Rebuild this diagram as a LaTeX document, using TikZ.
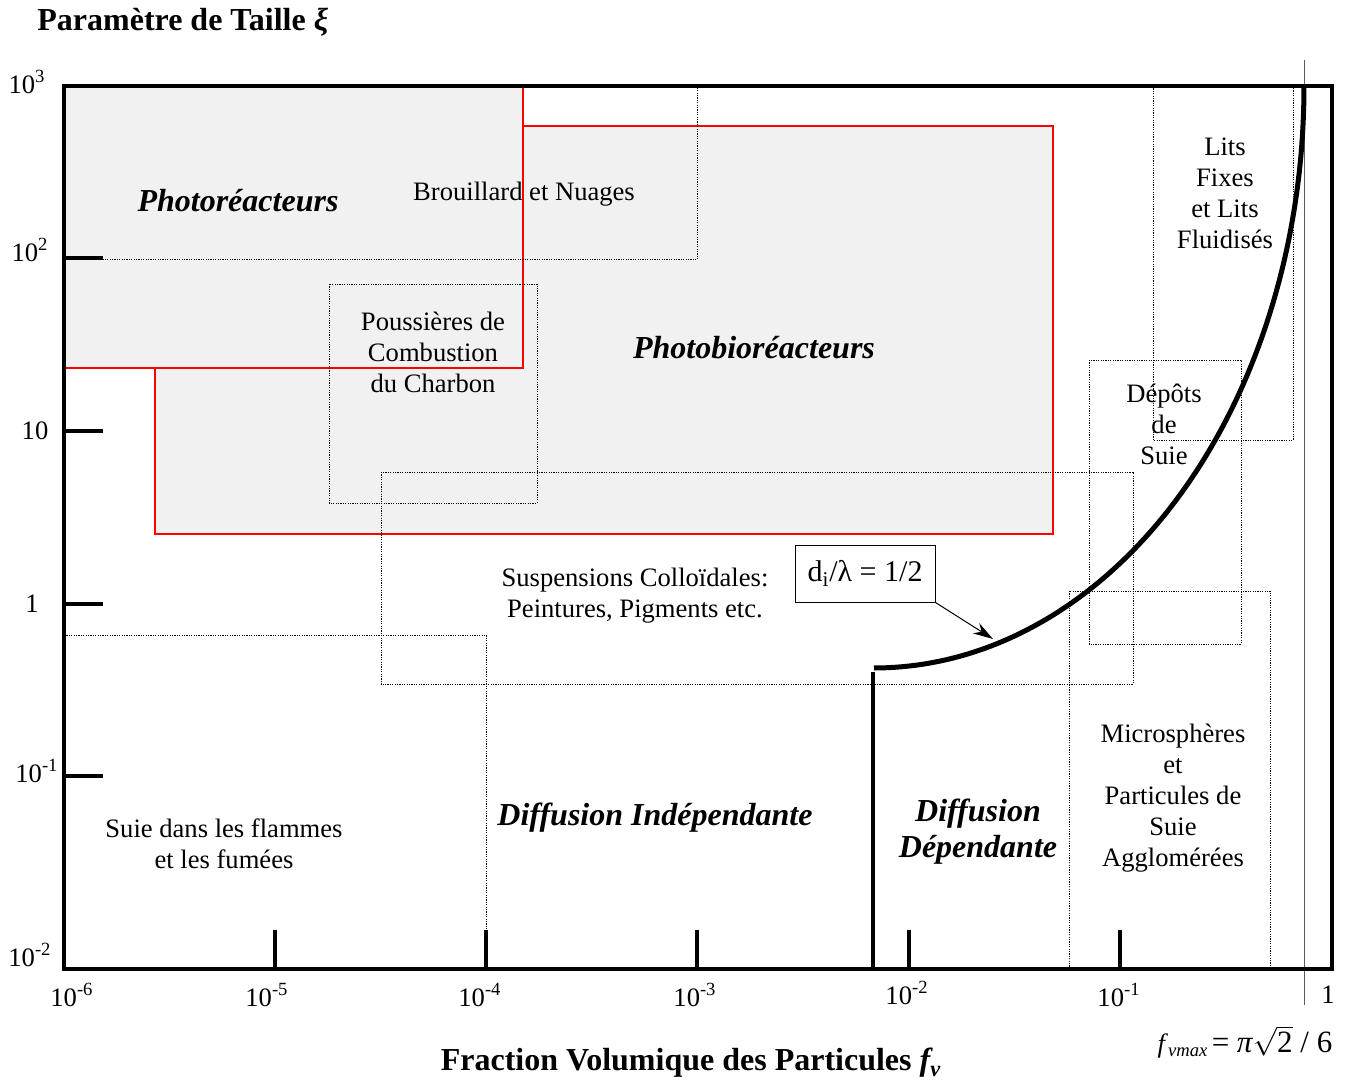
\documentclass[tikz,border=0pt]{standalone}
\usepackage{fontspec}
\setmainfont{Liberation Serif}
\usetikzlibrary{arrows.meta}
\definecolor{fillgray}{RGB}{241,241,241}
\definecolor{vlinegray}{RGB}{90,90,90}
\begin{document}
\begin{tikzpicture}[x=0.5pt,y=-0.5pt,
  dotbox/.style={draw=black, line width=0.5pt, dash pattern=on 0.6pt off 0.6pt},
  redbox/.style={draw=red, line width=1pt, fill=fillgray},
  framebox/.style={draw=black, line width=2pt},
  tickline/.style={draw=black, line width=2pt},
  curveline/.style={draw=black, line width=2.5pt},
  txt/.style={font=\fontsize{13.3}{15.5}\selectfont, align=center, inner sep=0pt},
  bigital/.style={font=\fontsize{16}{18}\selectfont\bfseries\itshape, align=center, inner sep=0pt},
  boldlab/.style={font=\fontsize{16}{18}\selectfont\bfseries, inner sep=0pt},
  ticklab/.style={font=\fontsize{13.3}{15}\selectfont, inner sep=0pt}]
\useasboundingbox (0,0) rectangle (1351,1081);

% filled regions
\path[redbox] (155,126) rectangle (1053,534);
\path[redbox] (64,86) rectangle (523,368);

% dotted domain boxes
\draw[dotbox] (64,260) -- (697,260) -- (697,86);
\draw[dotbox] (329,284) rectangle (537,503);
\draw[dotbox] (381,472) rectangle (1133,684);
\draw[dotbox] (64,635) -- (486,635) -- (486,969);
\draw[dotbox] (1153,86) -- (1153,440) -- (1293,440) -- (1293,86);
\draw[dotbox] (1089,360) rectangle (1241,644);
\draw[dotbox] (1069,969) -- (1069,591) -- (1270,591) -- (1270,969);

% fv max line
\draw[vlinegray, line width=0.5pt] (1304,60) -- (1304,1005);

% frame
\draw[framebox] (64,86) rectangle (1332,969);

% ticks
\foreach \yy in {258,431,604,776} \draw[tickline] (64,\yy) -- (103,\yy);
\foreach \xx in {275,486,697,909,1120} \draw[tickline] (\xx,969) -- (\xx,930);

% dependent scattering boundary
\draw[tickline] (873,969) -- (873,672);
\draw[curveline, line cap=butt] plot[domain=0:90, samples=80, smooth]
  ({874+430*sin(\x)}, {86+582*cos(\x)});

% label box and arrow
\node[draw=black, line width=0.5pt, minimum width=70pt, minimum height=28.5pt,
      inner sep=0pt, font=\fontsize{15}{17}\selectfont] (ratio) at (865,573.5)
      {d\textsubscript{i}/λ = 1/2};
\coordinate (curvept) at (993,639);
\draw[line width=0.5pt, -{Stealth[length=10pt,width=6pt]}] (ratio.south east) -- (curvept);

% axis titles
\node[boldlab, anchor=west] (ytitle) at (37,22) {Paramètre de Taille \textit{ξ}};
\node[boldlab] (xtitle) at (691,1063) {Fraction Volumique des Particules \textit{f\textsubscript{v}}};
\node[inner sep=0pt] (fvmax) at (1245,1042)
  {{\fontsize{13.3}{15}\selectfont\textit{f}\textsubscript{\textit{vmax}}}\,{\fontsize{15.5}{17}\selectfont = \textit{π}$\sqrt{\mbox{2}}$ / 6}};

% y tick labels
\node[ticklab] (y3) at (27,82) {10\textsuperscript{3}};
\node[ticklab] (y2) at (30,250) {10\textsuperscript{2}};
\node[ticklab] (y1) at (35,431) {10};
\node[ticklab] (y0) at (32,604) {1};
\node[ticklab] (ym1) at (37,771) {10\textsuperscript{-1}};
\node[ticklab] (ym2) at (30,955) {10\textsuperscript{-2}};

% x tick labels
\node[ticklab] (xm6) at (72,995) {10\textsuperscript{-6}};
\node[ticklab] (xm5) at (267,995) {10\textsuperscript{-5}};
\node[ticklab] (xm4) at (480,995) {10\textsuperscript{-4}};
\node[ticklab] (xm3) at (695,995) {10\textsuperscript{-3}};
\node[ticklab] (xm2) at (907,993) {10\textsuperscript{-2}};
\node[ticklab] (xm1) at (1119,995) {10\textsuperscript{-1}};
\node[ticklab] (x0) at (1328,995) {1};

% region labels
\node[bigital] (photo) at (238,201) {Photoréacteurs};
\node[bigital] (photobio) at (754,348) {Photobioréacteurs};
\node[bigital] (indep) at (655,818) {Diffusion Indépendante};
\node[bigital] (dep) at (978,832) {Diffusion\\[0pt]Dépendante};

\node[txt] (brouillard) at (524,194) {Brouillard et Nuages};
\node[txt] (poussieres) at (433,352) {Poussières de\\Combustion\\du Charbon};
\node[txt] (suspensions) at (635,596) {Suspensions Colloïdales:\\Peintures, Pigments etc.};
\node[txt] (suie) at (224,844) {Suie dans les flammes\\et les fumées};
\node[txt] (lits) at (1225,193) {Lits\\Fixes\\et Lits\\Fluidisés};
\node[txt] (depots) at (1164,424) {Dépôts\\de\\Suie};
\node[txt] (micro) at (1173,798) {Microsphères\\et\\Particules de\\Suie\\Agglomérées};
\end{tikzpicture}
\end{document}
